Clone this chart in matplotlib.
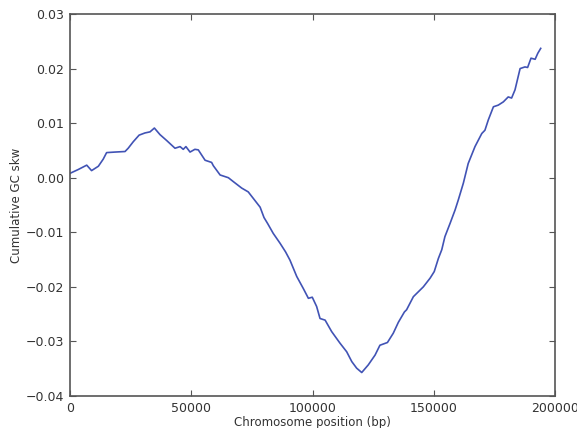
import matplotlib
matplotlib.use("Agg")
import matplotlib.pyplot as plt

# Cumulative GC skew along the chromosome
position_bp = [
    0, 3400, 6900, 8900, 11700, 13700, 15100, 18600, 22700, 24000,
    26100, 28500, 30900, 33000, 34800, 37100, 39900, 43300, 45400, 46700,
    47800, 49500, 51500, 52900, 55700, 58400, 59100, 61900, 65300, 67300,
    70800, 73500, 75600, 78400, 80000, 81500, 83800, 86600, 88900, 90700,
    93500, 96200, 98300, 99900, 101700, 103100, 105200, 107900, 111300, 114100,
    116200, 118200, 120300, 123000, 125800, 127800, 130900, 133300, 135400, 137900,
    138800, 141600, 145700, 148500, 150200, 151900, 153300, 154600, 156700, 158800,
    160100, 162200, 164200, 167000, 169800, 171100, 172500, 174600, 176600, 178700,
    180700, 182100, 183500, 185600, 187600, 188700, 190100, 191800, 192900, 194100,
]
gc_skew = [
    0.0008, 0.0015, 0.0023, 0.0013, 0.0021, 0.0034, 0.0046, 0.0047, 0.0048, 0.0054,
    0.0066, 0.0078, 0.0082, 0.0084, 0.0091, 0.0079, 0.0068, 0.0054, 0.0057, 0.0052,
    0.0057, 0.0047, 0.0052, 0.0051, 0.0032, 0.0028, 0.0022, 0.0005, 0.0000, -0.0007,
    -0.0019, -0.0026, -0.0038, -0.0054, -0.0073, -0.0084, -0.0102, -0.0120, -0.0136, -0.0151,
    -0.0181, -0.0203, -0.0221, -0.0219, -0.0236, -0.0258, -0.0261, -0.0282, -0.0303, -0.0319,
    -0.0337, -0.0349, -0.0357, -0.0343, -0.0325, -0.0307, -0.0302, -0.0285, -0.0265, -0.0246,
    -0.0242, -0.0218, -0.0200, -0.0184, -0.0172, -0.0148, -0.0132, -0.0108, -0.0084, -0.0059,
    -0.0041, -0.0010, 0.0026, 0.0057, 0.0081, 0.0087, 0.0106, 0.0130, 0.0133, 0.0139,
    0.0148, 0.0146, 0.0161, 0.0200, 0.0203, 0.0202, 0.0219, 0.0217, 0.0228, 0.0237,
]

x_ticks = [0, 50000, 100000, 150000, 200000]
y_ticks = [-0.04, -0.03, -0.02, -0.01, 0.00, 0.01, 0.02, 0.03]

text_color = "#333333"
spine_color = "#555555"

fig = plt.figure(figsize=(5.77, 4.28), dpi=100)
ax = fig.add_axes([0.1213, 0.0748, 0.8406, 0.8925])

ax.plot(position_bp, gc_skew, color="#4153b5", linewidth=1.2)

ax.set_xlim(0, 200000)
ax.set_ylim(-0.04, 0.03)
ax.set_xticks(x_ticks)
ax.set_yticks(y_ticks)
ax.ticklabel_format(axis="x", style="plain", useOffset=False)

ax.tick_params(direction="in", length=4, width=0.8, top=True, right=True,
               colors=spine_color, labelcolor=text_color, labelsize=9, pad=4)
for spine in ax.spines.values():
    spine.set_color(spine_color)
    spine.set_linewidth(1.2)

ax.set_xlabel("Chromosome position (bp)", fontsize=8.5, color=text_color, labelpad=1)
ax.set_ylabel("Cumulative GC skw", fontsize=8.5, color=text_color, labelpad=2)

fig.savefig("out.png", dpi=100)
